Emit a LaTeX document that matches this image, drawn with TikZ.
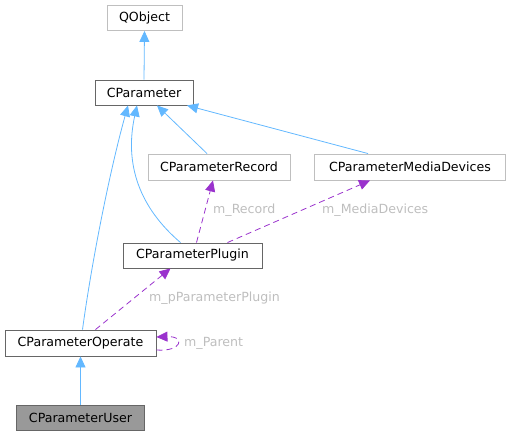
\documentclass[tikz,border=0pt]{standalone}
\usepackage{fontspec}
\setmainfont{DejaVu Sans}
\usetikzlibrary{arrows.meta}
\definecolor{inhblue}{HTML}{63B8FF}
\definecolor{deppurple}{HTML}{9A32CD}
\definecolor{lightborder}{HTML}{BFBFBF}
\definecolor{darkborder}{HTML}{666666}
\definecolor{labelgray}{HTML}{BEBEBE}
\definecolor{userfill}{HTML}{999999}
\tikzset{
  cls/.style={draw=darkborder, line width=0.9pt, rectangle, inner sep=0pt, align=center, font=\fontsize{12.6}{15}\selectfont},
  extcls/.style={cls, draw=lightborder},
  inh/.style={draw=inhblue, line width=0.8pt, -{Triangle[length=11pt,width=10pt]}},
  dep/.style={draw=deppurple, line width=0.8pt, dash pattern=on 6pt off 4pt, -{Triangle[length=11pt,width=10pt]}},
  lbl/.style={text=labelgray, font=\fontsize{12.6}{15}\selectfont, anchor=west, inner sep=0pt}
}
\begin{document}
\begin{tikzpicture}[x=1pt,y=-1pt]
\useasboundingbox (0,0) rectangle (511,436);
\node[extcls, minimum width=75pt, minimum height=25pt] (qobj) at (144.5,18) {QObject};
\node[cls, minimum width=98pt, minimum height=25pt] (par) at (144,92.5) {CParameter};
\node[extcls, minimum width=142pt, minimum height=26pt] (rec) at (219,167) {CParameterRecord};
\node[extcls, minimum width=191pt, minimum height=26pt] (med) at (410,167) {CParameterMediaDevices};
\node[cls, minimum width=139pt, minimum height=25pt] (plg) at (192.5,255.5) {CParameterPlugin};
\node[cls, minimum width=151pt, minimum height=26pt] (op) at (80.5,343) {CParameterOperate};
\node[cls, fill=userfill, minimum width=128pt, minimum height=25pt] (usr) at (80.5,417.5) {CParameterUser};

% inheritance
\draw[inh] (par.north) -- (qobj.south);
\draw[inh] ([xshift=-12pt]rec.north) -- ([xshift=13pt]par.south);
\draw[inh] ([xshift=-42pt]med.north) -- ([xshift=43pt]par.south);
\draw[inh] ([xshift=-12pt]plg.north) .. controls (140,208) and (124,165) .. ([xshift=-7pt]par.south);
\draw[inh] ([xshift=2pt]op.north) .. controls (92,260) and (110,170) .. ([xshift=-16pt]par.south);
\draw[inh] (usr.north) -- (op.south);

% usage
\draw[dep] ([xshift=4pt]plg.north) -- ([xshift=-6pt]rec.south);
\node[lbl] (lrec) at (213,210) {m\_Record};
\draw[dep] ([xshift=35pt]plg.north) -- ([xshift=-40pt]med.south);
\node[lbl] (lmed) at (322,210) {m\_MediaDevices};
\draw[dep] ([xshift=15pt]op.north) -- ([xshift=-22pt]plg.south);
\node[lbl] (lplg) at (149,298) {m\_pParameterPlugin};
\draw[dep] ([yshift=-7pt]op.east) .. controls (182,352) and (186,336) .. ([yshift=6pt]op.east);
\node[lbl] (lpar) at (184,343) {m\_Parent};
\end{tikzpicture}
\end{document}
